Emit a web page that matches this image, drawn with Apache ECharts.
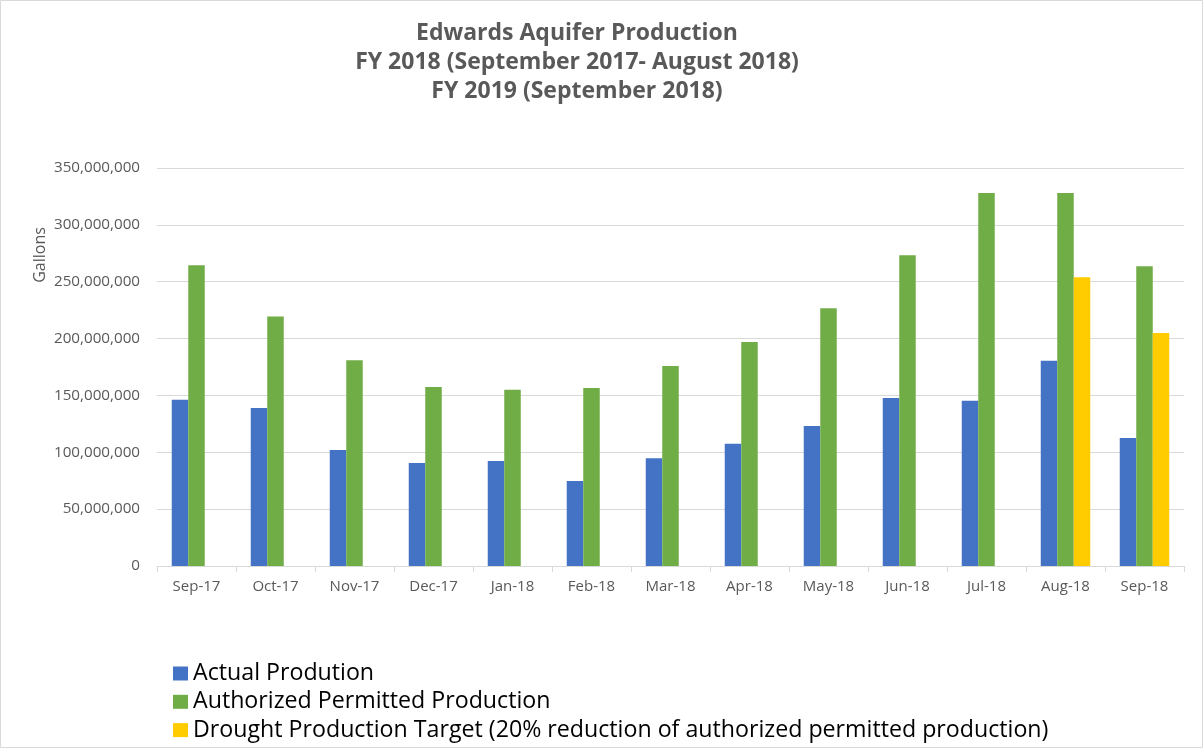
<!DOCTYPE html>
<html>
<head>
<meta charset="utf-8">
<script src="https://cdn.jsdelivr.net/npm/echarts@6/dist/echarts.min.js"></script>
<style>
  html, body { margin: 0; padding: 0; background: #fff; }
  #chart { width: 1204px; height: 750px; }
</style>
</head>
<body>
<div id="chart"></div>
<script>
// Monthly production, gallons
const months = ['Sep-17', 'Oct-17', 'Nov-17', 'Dec-17', 'Jan-18', 'Feb-18', 'Mar-18',
                'Apr-18', 'May-18', 'Jun-18', 'Jul-18', 'Aug-18', 'Sep-18'];
const actualProduction = [146300000, 139000000, 102000000, 90600000, 92300000, 74800000, 94700000,
                          107600000, 123100000, 147700000, 145400000, 180600000, 112600000];
const authorizedProduction = [264400000, 219300000, 180900000, 157400000, 155100000, 156500000, 175900000,
                              197000000, 226600000, 273200000, 328000000, 328000000, 263500000];
const droughtTarget = [null, null, null, null, null, null, null,
                       null, null, null, null, 253900000, 204900000];
const yTicks = { min: 0, max: 350000000, interval: 50000000 };

const FONT = '"Open Sans", Lato, sans-serif';
const GREY = '#595959';

const chart = echarts.init(document.getElementById('chart'), null, { renderer: 'canvas' });

chart.setOption({
  animation: false,
  backgroundColor: '#ffffff',
  title: {
    text: 'Edwards Aquifer Production\nFY 2018 (September 2017- August 2018)\nFY 2019 (September 2018)',
    left: 577,
    textAlign: 'center',
    top: 19,
    padding: 0,
    textStyle: {
      fontFamily: FONT,
      fontSize: 23,
      fontWeight: 'bold',
      color: GREY,
      lineHeight: 29
    }
  },
  legend: {
    orient: 'vertical',
    left: 173,
    top: 659.5,
    padding: 0,
    itemWidth: 15,
    itemHeight: 14,
    itemGap: 0.3,
    icon: 'rect',
    textStyle: { fontFamily: FONT, fontSize: 23.2, lineHeight: 28, color: '#000000' },
    data: ['Actual Prodution', 'Authorized Permitted Production',
           'Drought Production Target (20% reduction of authorized permitted production)']
  },
  grid: { left: 157, right: 20, top: 168, bottom: 184, containLabel: false },
  xAxis: {
    type: 'category',
    data: months,
    boundaryGap: true,
    axisLine: { lineStyle: { color: '#d9d9d9', width: 1 } },
    axisTick: { show: true, length: 6, lineStyle: { color: '#d9d9d9' } },
    axisLabel: { fontFamily: FONT, fontSize: 15, color: GREY, margin: 13 }
  },
  yAxis: {
    type: 'value',
    min: yTicks.min,
    max: yTicks.max,
    interval: yTicks.interval,
    axisLine: { show: false },
    axisTick: { show: false },
    splitLine: { lineStyle: { color: '#d9d9d9', width: 1 } },
    axisLabel: {
      fontFamily: FONT, fontSize: 15.2, color: GREY, margin: 17,
      formatter: v => v.toLocaleString('en-US')
    }
  },
  graphic: [
    {
      type: 'rect',
      shape: { x: 0.5, y: 0.5, width: 1202, height: 747 },
      style: { fill: 'none', stroke: '#d9d9d9', lineWidth: 1 },
      z: -10
    },
    {
      type: 'text',
      x: 40, y: 255,
      rotation: Math.PI / 2,
      style: {
        text: 'Gallons',
        fontFamily: FONT, fontSize: 16, fill: GREY,
        textAlign: 'center', textVerticalAlign: 'middle'
      }
    }
  ],
  series: [
    {
      name: 'Actual Prodution', type: 'bar', data: actualProduction,
      barWidth: 16.5, barGap: '0%', itemStyle: { color: '#4472C4' }
    },
    {
      name: 'Authorized Permitted Production', type: 'bar', data: authorizedProduction,
      barWidth: 16.5, barGap: '0%', itemStyle: { color: '#70AD47' }
    },
    {
      name: 'Drought Production Target (20% reduction of authorized permitted production)',
      type: 'bar', data: droughtTarget,
      barWidth: 16.5, barGap: '0%', itemStyle: { color: '#FFCC00' }
    }
  ]
});
</script>
</body>
</html>
